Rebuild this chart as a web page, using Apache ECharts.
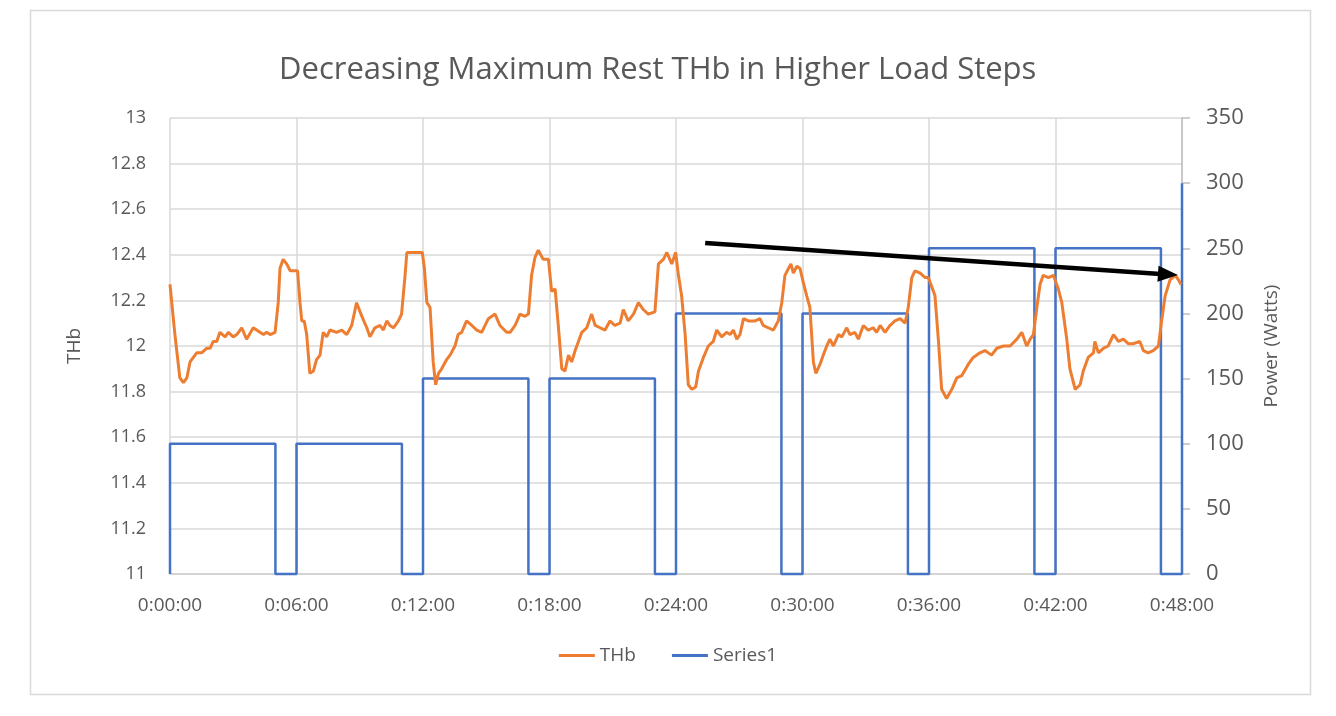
<!DOCTYPE html>
<html>
<head>
<meta charset="utf-8">
<script src="https://cdn.jsdelivr.net/npm/echarts@6/dist/echarts.min.js"></script>
<style>
html,body{margin:0;padding:0;background:#fff;}
#chart{width:1336px;height:716px;}
</style>
</head>
<body>
<div id="chart"></div>
<script>
// THb series (time in seconds, THb value)
var thbTime = [0,5,14,28,38,48,57,76,90,104,114,123,133,142,157,166,180,190,204,218,237,256,266,275,285,299,308,313,322,332,342,356,363,370,375,382,389,398,408,417,427,436,446,455,474,
489,503,517,531,546,560,569,583,598,607,617,626,636,650,659,664,669,674,683,697,711,718,724,731,740,749,756,764,773,787,797,811,820,830,844,859,873,887,906,925,939,958,
968,982,996,1010,1020,1029,1039,1048,1062,1077,1086,1096,1105,1115,1124,1134,1143,1153,1172,1186,1200,1210,1224,1238,1252,1266,1281,1290,1304,1319,1333,1347,1361,1380,1390,1404,1414,1428,1439,
1447,1456,1466,1475,1485,1496,1504,1518,1532,1546,1556,1570,1584,1594,1603,1613,1622,1632,1646,1665,1679,1688,1703,1717,1731,1741,1750,1760,1767,1774,1784,1793,1802,1812,1821,1831,1838,1850,1859,1869,1878,1888,1902,1912,1926,
1935,1949,1959,1973,1987,2001,2011,2021,2035,2049,2063,2078,2092,2101,2111,2120,2135,2149,2158,2168,2177,2187,2196,2210,2225,2239,2253,2272,2286,2305,2319,2338,2353,2372,2391,2410,
2424,2438,2448,2457,2467,2476,2485,2500,2514,2528,2538,2552,2561,2576,2590,2599,2613,2628,2632,2642,2656,2670,2685,2699,2713,2727,2741,2760,2770,2784,2798,2813,2822,2832,2846,2861,2870,2877];
var thbValue = [12.27,12.19,12.05,11.86,11.84,11.86,11.93,11.97,11.97,11.99,11.99,12.02,12.02,12.06,12.04,12.06,12.04,12.05,12.08,12.03,12.08,12.06,12.05,12.06,12.05,12.06,12.19,12.34,12.38,12.36,12.33,12.33,12.33,12.19,12.11,12.11,12.05,11.88,11.89,11.94,11.96,12.06,12.04,12.07,12.06,
12.07,12.05,12.09,12.19,12.13,12.08,12.04,12.08,12.09,12.07,12.11,12.09,12.08,12.11,12.14,12.14,12.31,12.41,12.41,12.41,12.41,12.41,12.34,12.19,12.17,11.93,11.83,11.88,11.90,11.94,11.96,12.00,12.05,12.06,12.11,12.09,12.07,12.06,12.12,12.14,12.09,12.06,
12.06,12.09,12.14,12.13,12.14,12.31,12.39,12.42,12.38,12.38,12.24,12.25,12.09,11.90,11.89,11.96,11.93,11.98,12.06,12.08,12.14,12.09,12.08,12.07,12.11,12.09,12.10,12.16,12.11,12.14,12.19,12.16,12.14,12.15,12.36,12.38,12.41,12.36,12.41,
12.31,12.22,12.05,11.83,11.81,11.82,11.89,11.95,12.00,12.02,12.07,12.04,12.06,12.05,12.07,12.03,12.05,12.12,12.11,12.11,12.12,12.09,12.08,12.07,12.11,12.19,12.31,12.34,12.36,12.32,12.35,12.34,12.28,12.22,12.17,11.93,11.88,11.92,11.96,12.00,12.03,12.00,12.05,12.04,12.08,
12.05,12.06,12.03,12.09,12.07,12.08,12.06,12.09,12.06,12.09,12.11,12.12,12.10,12.17,12.30,12.33,12.32,12.30,12.30,12.26,12.22,12.02,11.81,11.77,11.81,11.86,11.87,11.92,11.95,11.97,11.98,11.96,11.99,12.00,12.00,12.03,
12.06,12.00,12.03,12.05,12.17,12.27,12.31,12.30,12.31,12.25,12.19,12.03,11.90,11.81,11.83,11.89,11.95,11.97,12.02,11.97,11.99,12.00,12.05,12.02,12.03,12.01,12.01,12.02,11.98,11.97,11.98,12.00,12.11,12.22,12.29,12.31,12.29,12.27];

// Series1 power steps (time in seconds, watts)
var powerTime = [0,0,300,300,360,360,660,660,720,720,1020,1020,1080,1080,1380,1380,1440,1440,1740,1740,1800,1800,2100,2100,2160,2160,2460,2460,2520,2520,2820,2820,2880,2880];
var powerWatts = [0,100,100,0,0,100,100,0,0,150,150,0,0,150,150,0,0,200,200,0,0,200,200,0,0,250,250,0,0,250,250,0,0,300];

// Trend arrow (time, THb)
var arrowStart = [1523, 12.452];
var arrowEnd = [2840, 12.314];

var xTickStep = 360;

function zip(a, b) { var r = []; for (var i = 0; i < a.length; i++) r.push([a[i], b[i]]); return r; }
function pad(n) { return (n < 10 ? '0' : '') + n; }
function fmtTime(v) {
  var h = Math.floor(v / 3600), m = Math.floor((v % 3600) / 60), s = Math.round(v % 60);
  return h + ':' + pad(m) + ':' + pad(s);
}

var FONT = 'Open Sans';
var TXT = '#595959';
var chart = echarts.init(document.getElementById('chart'));
chart.setOption({
  animation: false,
  backgroundColor: '#ffffff',
  graphic: [{
    type: 'rect', left: 28, top: 8, shape: { width: 1280, height: 684 },
    style: { fill: 'none', stroke: '#d9d9d9', lineWidth: 1.5 }, silent: true, z: -1
  }],
  title: {
    text: 'Decreasing Maximum Rest THb in Higher Load Steps',
    left: 274, top: 50,
    textStyle: { fontFamily: FONT, fontSize: 31, fontWeight: 'normal', color: TXT }
  },
  legend: {
    bottom: 46, left: 'center', itemWidth: 36, itemHeight: 3, itemGap: 36, icon: 'rect',
    textStyle: { fontFamily: FONT, fontSize: 19, color: TXT },
    data: ['THb', 'Series1']
  },
  grid: { left: 170, right: 154, top: 118, bottom: 142, containLabel: false },
  xAxis: {
    type: 'value', min: 0, max: 2880, interval: xTickStep,
    axisLine: { show: true, lineStyle: { color: '#d0d0d0', width: 1.5 } },
    axisTick: { show: false },
    splitLine: { show: true, lineStyle: { color: '#d9d9d9', width: 1.5 } },
    axisLabel: { formatter: fmtTime, margin: 22, fontFamily: FONT, fontSize: 19, color: TXT }
  },
  yAxis: [{
    type: 'value', min: 11, max: 13, interval: 0.2, position: 'left',
    name: 'THb', nameLocation: 'middle', nameGap: 86, nameRotate: 90,
    nameTextStyle: { fontFamily: FONT, fontSize: 19, color: TXT },
    axisLine: { show: false }, axisTick: { show: false },
    splitLine: { show: true, lineStyle: { color: '#d9d9d9', width: 1.5 } },
    axisLabel: { margin: 24, fontFamily: FONT, fontSize: 18, color: TXT,
      formatter: function (v) { return String(Math.round(v * 10) / 10); } }
  }, {
    type: 'value', min: 0, max: 350, interval: 50, position: 'right',
    name: 'Power (Watts)', nameLocation: 'middle', nameGap: 80, nameRotate: 90,
    nameTextStyle: { fontFamily: FONT, fontSize: 19, color: TXT },
    axisLine: { show: true, lineStyle: { color: '#bfbfbf', width: 1.5 } },
    axisTick: { show: true, length: 8, lineStyle: { color: '#bfbfbf', width: 1.5 } },
    splitLine: { show: false },
    axisLabel: { margin: 24, fontFamily: FONT, fontSize: 22, color: TXT }
  }],
  series: [{
    name: 'THb', type: 'line', yAxisIndex: 0, symbol: 'none', clip: false,
    data: zip(thbTime, thbValue),
    lineStyle: { color: '#ED7D31', width: 3 }, itemStyle: { color: '#ED7D31' }, z: 3,
    markLine: {
      silent: true, symbol: ['none', 'triangle'], symbolSize: [16, 20],
      label: { show: false },
      lineStyle: { color: '#000000', width: 4.5, type: 'solid' },
      itemStyle: { color: '#000000', borderWidth: 0 },
      data: [[{ coord: arrowStart }, { coord: arrowEnd }]]
    }
  }, {
    name: 'Series1', type: 'line', yAxisIndex: 1, symbol: 'none', clip: false,
    data: zip(powerTime, powerWatts),
    lineStyle: { color: '#4472C4', width: 2.5 }, itemStyle: { color: '#4472C4' }, z: 2
  }]
});
</script>
</body>
</html>
